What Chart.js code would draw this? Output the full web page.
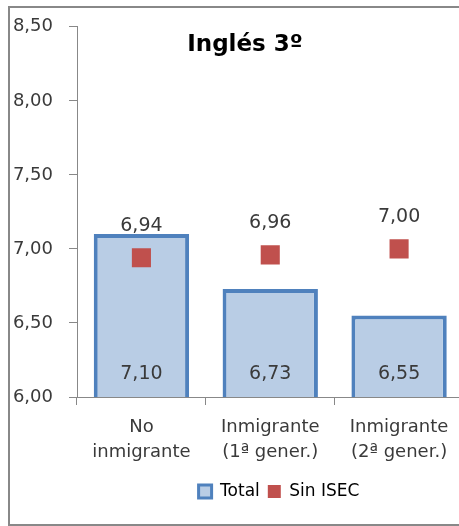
<!DOCTYPE html>
<html>
<head>
<meta charset="utf-8">
<script src="https://cdn.jsdelivr.net/npm/chart.js@4/dist/chart.umd.min.js"></script>
<style>
  html, body { margin: 0; padding: 0; background: #fff; overflow: hidden; width: 459px; height: 526px; }
  #frame { position: absolute; left: 8px; top: 6px; width: 600px; height: 520px; box-sizing: border-box; border: 2px solid #888; }
  #c { position: absolute; left: 0; top: 0; }
</style>
</head>
<body>
<div id="frame"></div>
<canvas id="c" width="477" height="526"></canvas>
<script>
const categories = [['No', 'inmigrante'], ['Inmigrante', '(1ª gener.)'], ['Inmigrante', '(2ª gener.)']];
const totalValues = [7.10, 6.73, 6.55];
const sinIsecValues = [6.94, 6.96, 7.00];
const titleText = 'Inglés 3º';
const seriesNames = ['Total', 'Sin ISEC'];
const yMin = 6.0, yMax = 8.5, yStep = 0.5;

const FONT = 'DejaVu Sans';
const TEXT = '#3a3a3a';
const fmt = v => v.toFixed(2).replace('.', ',');

const labelPlugin = {
  id: 'labels',
  afterDatasetsDraw(chart) {
    const ctx = chart.ctx;
    const y = chart.scales.y;
    const base = y.getPixelForValue(yMin);
    ctx.save();
    ctx.font = '19px "' + FONT + '"';
    ctx.fillStyle = TEXT;
    ctx.textAlign = 'center';
    ctx.textBaseline = 'middle';
    chart.getDatasetMeta(0).data.forEach((el, i) => {
      ctx.fillText(fmt(totalValues[i]), el.x, base - 23);
    });
    chart.getDatasetMeta(1).data.forEach((el, i) => {
      ctx.fillText(fmt(sinIsecValues[i]), el.x, el.y - 32);
    });
    ctx.font = 'bold 23px "' + FONT + '"';
    ctx.fillStyle = '#000';
    ctx.fillText(titleText, 245, 45);
    ctx.restore();
  }
};

new Chart(document.getElementById('c'), {
  data: {
    labels: categories,
    datasets: [
      {
        type: 'bar',
        label: seriesNames[0],
        data: totalValues,
        backgroundColor: '#B9CDE5',
        borderColor: '#4F81BD',
        borderWidth: 4,
        borderSkipped: false,
        barPercentage: 0.74,
        categoryPercentage: 1,
        order: 1
      },
      {
        type: 'line',
        label: seriesNames[1],
        data: sinIsecValues,
        showLine: false,
        pointStyle: 'rect',
        pointRadius: 13.5,
        pointHoverRadius: 13.5,
        pointBorderWidth: 0,
        backgroundColor: '#C0504D',
        borderColor: '#C0504D',
        order: 0
      }
    ]
  },
  options: {
    responsive: false,
    animation: false,
    events: [],
    layout: { padding: { left: 12, right: -69, top: 25, bottom: 16 } },
    plugins: {
      title: { display: false },
      tooltip: { enabled: false },
      legend: {
        position: 'bottom',
        labels: {
          font: { family: FONT, size: 17 },
          color: TEXT,
          boxWidth: 13,
          boxHeight: 13,
          padding: 8,
          generateLabels(chart) {
            return chart.data.datasets.map((ds, i) => ({
              text: ds.label,
              fillStyle: ds.backgroundColor,
              strokeStyle: ds.borderColor,
              lineWidth: i === 0 ? 3 : 0,
              datasetIndex: i,
              hidden: false
            }));
          }
        }
      }
    },
    scales: {
      x: {
        afterFit(s) { s.height = 78; s.paddingRight = 0; s.paddingLeft = 0; },
        grid: { display: true, drawOnChartArea: false, offset: true, tickLength: 8, color: '#888' },
        border: { display: true, color: '#888', width: 1 },
        ticks: { font: { family: FONT, size: 18, lineHeight: 1.39 }, color: TEXT, padding: 10, maxRotation: 0, autoSkip: false }
      },
      y: {
        min: yMin,
        max: yMax,
        afterFit(s) { s.width = 65; },
        grid: { display: true, drawOnChartArea: false, tickLength: 8, color: '#888' },
        border: { display: true, color: '#888', width: 1 },
        ticks: {
          stepSize: yStep,
          font: { family: FONT, size: 18 },
          color: TEXT,
          padding: 16,
          callback: v => fmt(v)
        }
      }
    }
  },
  plugins: [labelPlugin]
});
</script>
</body>
</html>
